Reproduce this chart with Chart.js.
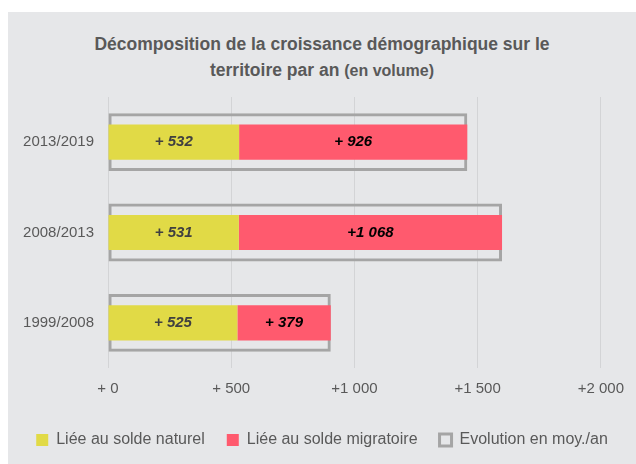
<!DOCTYPE html>
<html lang="fr">
<head>
<meta charset="UTF-8">
<title>Croissance démographique</title>
<script src="https://cdn.jsdelivr.net/npm/chart.js"></script>
<style>
    body { margin: 0; background: #fff; }
    .panel { position: absolute; left: 8px; top: 12px; width: 628px; height: 452px; background: #e6e7e9; font-family: "Liberation Sans", Arial, sans-serif; }
    .titre { text-align: center; color: #595959; font-weight: bold; font-size: 17.5px; line-height: 26px; padding-top: 19px; }
    .titre small { font-size: 16px; }
    .graph { position: absolute; left: 0; top: 70px; width: 628px; height: 382px; }
</style>
</head>
<body>
<div class="panel">
    <div class="titre">Décomposition de la croissance démographique sur le<br>territoire par an <small>(en volume)</small></div>
    <div class="graph"><canvas id="graphique"></canvas></div>
</div>
<script>
    // Périodes et valeurs (habitants par an)
    const periodes = ['2013/2019', '2008/2013', '1999/2008'];
    const soldeNaturel = [532, 531, 525];
    const soldeMigratoire = [926, 1068, 379];
    const evolutionMoy = [1458, 1599, 904];
    const ticksX = [0, 500, 1000, 1500, 2000];

    const gris = '#595959';
    const police = '"Liberation Sans", Arial, sans-serif';

    function formatNombre(v) {
        if (v < 1000) return '+ ' + v;
        return '+' + Math.floor(v / 1000) + ' ' + String(v % 1000).padStart(3, '0');
    }

    // étiquettes au centre des barres
    const etiquettes = {
        id: 'etiquettes',
        afterDatasetsDraw(chart) {
            const ctx = chart.ctx;
            ctx.save();
            ctx.font = 'italic bold 15px ' + police;
            ctx.textAlign = 'center';
            ctx.textBaseline = 'middle';
            chart.data.datasets.forEach((ds, i) => {
                if (!ds.couleurTexte) return;
                chart.getDatasetMeta(i).data.forEach((barre, j) => {
                    const p = barre.getCenterPoint();
                    ctx.fillStyle = ds.couleurTexte;
                    ctx.fillText(formatNombre(ds.data[j]), p.x, p.y);
                });
            });
            ctx.restore();
        }
    };

    Chart.defaults.font.family = police;
    Chart.defaults.color = gris;

    new Chart(document.getElementById('graphique'), {
        type: 'bar',
        data: {
            labels: periodes,
            datasets: [
                {
                    label: 'Liée au solde naturel',
                    data: soldeNaturel,
                    backgroundColor: '#e1da46',
                    borderWidth: 0,
                    stack: 'composantes',
                    grouped: false,
                    categoryPercentage: 1,
                    barPercentage: 0.39,
                    couleurTexte: '#404040'
                },
                {
                    label: 'Liée au solde migratoire',
                    data: soldeMigratoire,
                    backgroundColor: '#ff5a6e',
                    borderWidth: 0,
                    stack: 'composantes',
                    grouped: false,
                    categoryPercentage: 1,
                    barPercentage: 0.39,
                    couleurTexte: '#000000'
                },
                {
                    label: 'Evolution en moy./an',
                    data: evolutionMoy,
                    backgroundColor: 'rgba(0,0,0,0)',
                    borderColor: '#a5a5a5',
                    borderWidth: 3,
                    borderSkipped: false,
                    stack: 'total',
                    grouped: false,
                    categoryPercentage: 1,
                    barPercentage: 0.64
                }
            ]
        },
        options: {
            indexAxis: 'y',
            responsive: true,
            maintainAspectRatio: false,
            animation: false,
            layout: { padding: { top: -18, right: 0, left: 0, bottom: 6 } },
            scales: {
                x: {
                    stacked: true,
                    min: 0,
                    max: 2000,
                    afterBuildTicks: axis => { axis.ticks = ticksX.map(v => ({ value: v })); },
                    grid: { color: '#d3d4d6', drawTicks: false },
                    border: { display: false },
                    ticks: { padding: 12, font: { size: 15 }, callback: v => formatNombre(v) }
                },
                y: {
                    stacked: true,
                    grid: { display: false },
                    border: { display: false },
                    afterFit: axis => { axis.width = 100; },
                    ticks: { padding: 6, font: { size: 15 } }
                },
                // axe vide à droite pour réserver la marge
                marge: {
                    type: 'linear',
                    position: 'right',
                    grid: { display: false },
                    border: { display: false },
                    ticks: { display: false },
                    afterFit: axis => { axis.width = 33; }
                }
            },
            plugins: {
                legend: {
                    position: 'bottom',
                    labels: { boxWidth: 12, boxHeight: 12, padding: 22, font: { size: 16 } }
                },
                title: { display: false },
                tooltip: { enabled: false }
            }
        },
        plugins: [etiquettes]
    });
</script>
</body>
</html>
